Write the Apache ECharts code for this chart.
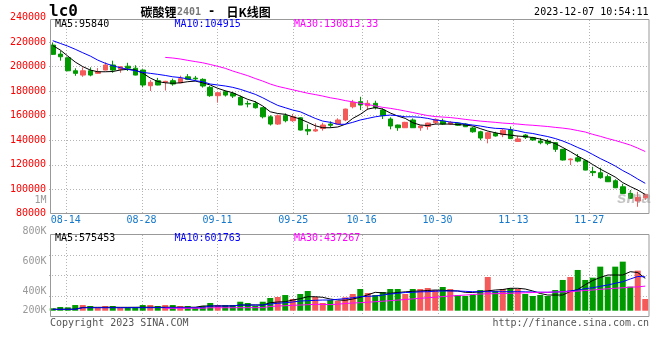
<!DOCTYPE html>
<html><head><meta charset="utf-8">
<script src="https://cdn.jsdelivr.net/npm/echarts@6/dist/echarts.min.js"></script>
<style>html,body{margin:0;padding:0;background:#fff}#c{width:660px;height:360px}</style>
</head><body><div id="c"></div>
<script>
const dates = ['08-10','08-11','08-14','08-15','08-16','08-17','08-18','08-21','08-22','08-23','08-24','08-25','08-28','08-29','08-30','08-31',
'09-01','09-04','09-05','09-06','09-07','09-08','09-11','09-12','09-13','09-14','09-15','09-18','09-19','09-20','09-21','09-22','09-25','09-26','09-27','09-28',
'10-09','10-10','10-11','10-12','10-13','10-16','10-17','10-18','10-19','10-20','10-23','10-24','10-25','10-26','10-27','10-30','10-31',
'11-01','11-02','11-03','11-06','11-07','11-08','11-09','11-10','11-13','11-14','11-15','11-16','11-17','11-20','11-21','11-22','11-23','11-24','11-27','11-28','11-29','11-30',
'12-01','12-04','12-05','12-06','12-07'];
const tickDates = ['08-14','08-28','09-11','09-25','10-16','10-30','11-13','11-27'];
const priceTicks = {min:80000, max:240000, step:20000};
const volTickLabels = ['800K','600K','400K','200K'];

const opens = [217500,210200,207200,196600,193100,196600,194500,197200,201300,197800,
200300,198700,197200,184400,188500,187200,188500,186800,191700,190600,
189600,183100,176300,179500,178200,175000,170000,170100,166500,159100,
153200,160000,155900,158300,148800,147500,149600,153200,153200,156500,
167300,171400,168100,170100,164600,157300,152400,150200,156500,150200,
151200,154300,155500,153200,153800,153200,150000,146900,141500,145600,
144600,148500,139000,144200,142000,139300,139300,138000,132600,124100,
125700,123300,114600,113500,110300,107000,102100,96700,90500,93100];
const highs = [219500,212900,207500,198600,199400,199400,198800,203500,204800,200400,
203100,201100,197800,189000,190800,188400,190200,192600,193900,192400,
190500,184200,179000,180400,179400,176400,172200,172000,167000,160400,
161000,161900,161400,158600,153000,153800,154200,155400,157900,165700,
172900,175400,172700,172200,166000,158700,152700,155000,157800,151800,
154300,157800,157600,155600,154600,153800,151000,147700,146900,146900,
149500,151200,143700,145000,142800,141800,141000,138500,133000,125200,
128800,124100,118400,117600,112100,108200,104500,99400,98000,96300];
const lows = [209500,204800,196300,192500,191700,192100,194300,197000,195000,195000,
196400,192900,183100,180100,184800,180500,184400,186500,189000,188500,
182900,175400,170600,175600,174400,168700,166800,165800,157800,152000,
152500,154600,155000,148000,144200,146900,147800,150200,153000,155500,
166000,164600,164600,165100,157300,148900,147700,150000,150000,147700,
148600,152900,152400,152400,151600,150800,146100,140000,137500,143000,
142500,141000,138800,141000,139500,136700,136000,130500,123500,119800,
122000,115500,110800,108700,106000,101000,96500,92500,85800,91500];
const closes = [210000,208000,196600,194500,196600,193100,195800,201300,197200,199900,
198700,193100,185000,187200,185000,188000,185800,190200,189600,190000,
184200,176300,178700,176800,176000,168700,169500,166500,159100,153200,
160000,155900,159100,148300,147500,148600,152400,152200,156500,165400,
170900,168700,170100,166500,160000,151600,150200,154600,150200,151600,
154000,157000,153200,154600,152200,151000,146900,141800,146100,143500,
148200,141300,141100,142400,140200,138000,137500,132600,123900,124700,
123000,115700,113600,109500,106200,101300,96700,92700,93500,95900];

const ma5 = [217200,213500,208600,203700,200000,197200,195800,195800,196000,197200,
197800,197200,194700,190700,187800,186800,186400,186800,187700,188200,
186800,185000,182300,180300,178700,176000,173300,171400,167900,163200,
161800,161100,159100,157300,154600,151800,150200,150200,150800,153000,
157800,161100,165400,166600,165400,162200,159700,157800,154300,152400,
152000,153200,153200,153200,152800,152400,151600,149500,147500,146100,
144900,144200,143400,143000,142200,141000,139300,137300,134100,130800,
127100,123900,120200,116500,113300,110000,105500,102300,99400,95840];
const ma10 = [221100,218900,216700,214100,211300,208600,205300,202700,200700,199100,
197800,196600,195300,194500,193700,192800,191700,191100,189900,188500,
187700,185800,185000,184200,183100,181500,179500,177400,174600,171400,
168400,166500,164600,163200,160500,157800,155600,154600,153000,153000,
154600,156500,157800,159100,160000,160500,160000,159100,159100,158700,
157800,156500,155900,154800,154300,153200,152400,151600,150500,149700,
149500,148700,147700,146300,145500,144200,143000,141400,139400,136900,
134100,131600,128400,125100,122200,119000,115300,112100,108400,104915];
const ma30 = [null,null,null,null,null,null,null,null,null,null,null,null,null,null,null,
207500,207000,206200,205100,204100,203100,201700,200200,198600,196400,
194500,192600,190300,188200,185800,183900,182500,181100,179700,178300,
177200,176000,174600,173600,172300,171300,170100,169100,168000,166800,
166000,165000,163800,162600,161300,160100,159300,158900,158500,157800,
157000,156300,155600,155100,154600,154000,153600,153200,152600,152200,
151700,151200,150500,149900,149100,147900,146700,144800,143200,141400,
139800,138000,136100,133600,130813.33];

const volumes = [43000,66000,60000,101000,101000,84000,53000,84000,84000,53000,
59000,59000,101000,101000,84000,101000,101000,84000,84000,59000,
84000,137000,101000,101000,101000,160000,137000,84000,160000,226000,
244000,279000,208000,297000,351000,244000,137000,190000,173000,238000,
297000,386000,315000,279000,333000,386000,386000,297000,386000,386000,
404000,368000,422000,386000,280000,262000,280000,368000,600000,351000,
386000,398000,386000,297000,262000,280000,262000,368000,547000,600000,
725000,547000,588000,784000,606000,784000,873000,428000,713000,208000];
const volMa5 = [25000,25000,26000,28000,58000,60000,60000,61000,61000,60000,
60000,61000,62000,62000,62000,61000,62000,62000,61000,62000,
84000,84000,85000,84000,86000,101000,101000,102000,101000,142000,
155000,160000,190000,214000,249000,249000,238000,208000,190000,185000,
208000,238000,283000,327000,318000,310000,324000,336000,345000,351000,
360000,368000,363000,356000,351000,327000,324000,338000,354000,368000,
377000,399000,399000,386000,351000,306000,279000,279000,279000,342000,
377000,463000,538000,591000,635000,635000,635000,694000,680000,575453];
const volMa10 = [25000,25000,25000,26000,52000,53000,53000,53000,53000,53000,
53000,54000,54000,54000,55000,55000,55000,55000,54000,54000,
55000,84000,84000,84000,85000,101000,101000,101000,101000,119000,
132000,142000,155000,173000,178000,185000,190000,190000,203000,214000,
231000,249000,256000,262000,279000,297000,310000,324000,327000,336000,
338000,347000,351000,351000,351000,345000,338000,338000,338000,338000,
338000,338000,338000,336000,333000,329000,327000,333000,338000,351000,
368000,392000,409000,434000,457000,488000,516000,564000,609000,601763];
const volMa30 = [null,null,null,null,null,null,null,null,null,null,null,null,null,null,null,
43000,43000,44000,44000,44000,45000,53000,53000,53000,53000,
54000,54000,54000,54000,75000,84000,89000,96000,101000,107000,
114000,112000,108000,116000,128000,137000,142000,151000,160000,169000,
178000,189000,199000,210000,221000,231000,240000,251000,262000,270000,
279000,288000,297000,301000,303000,306000,310000,315000,319000,324000,
327000,329000,333000,336000,338000,349000,360000,368000,381000,390000,
399000,408000,419000,424000,437267];

const MONO = '"DejaVu Sans Mono", "Liberation Mono", monospace';
const CJK = '"Noto Sans CJK SC", sans-serif';
const UP = '#f55a5a', DOWN = '#009a00';
const C5 = '#000000', C10 = '#0000ff', C30 = '#ff00ff';
const GRID_COLOR = '#b4b4b4';
const gridLine = {color: GRID_COLOR, type: [1,2], width: 1};

const last = a => a[a.length - 1];
const tickIdx = tickDates.map(d => dates.indexOf(d));
const candleData = dates.map((d, i) => [opens[i], closes[i], lows[i], highs[i]]);
const volData = volumes.map((v, i) => ({value: v, itemStyle: {color: closes[i] >= opens[i] ? UP : DOWN}}));

const dateScale = {min: -0.2, max: 78.87};
const frameMain = {x: 50.5, y: 19.5, w: 598.5, h: 194};
const frameVol = {x: 50.5, y: 234.5, w: 598.5, h: 82};
const gridMain = {left: 49, top: 17.5, width: 600, height: 196.4};
const gridVol = {left: 49, top: 234.5, width: 600, height: 82};

function txt(x, y, text, fill, font, align) {
  return {type: 'text', x: x, y: y, z: 20, silent: true,
    style: {text: text, fill: fill, font: font, align: align || 'left', verticalAlign: 'middle'}};
}
const F10 = '10px ' + MONO;
const volLabelY = [231, 261, 291, 310.5];

// vertical date grid lines: x from the same date scale as the date axis below
const vLines = [];
tickIdx.forEach(i => {
  const px = Math.round(gridMain.left + gridMain.width * (i - dateScale.min) / (dateScale.max - dateScale.min)) + 0.5;
  [frameMain, frameVol].forEach(f => {
    vLines.push({type: 'line', z: 1, silent: true,
      shape: {x1: px, y1: Math.ceil(f.y), x2: px, y2: Math.floor(f.y + f.h)},
      style: {stroke: GRID_COLOR, lineWidth: 1, lineDash: [1, 2]}});
  });
});

const graphic = vLines.concat([
  {type: 'rect', z: 15, silent: true, shape: {x: frameMain.x, y: frameMain.y, width: frameMain.w, height: frameMain.h}, style: {fill: 'none', stroke: '#999', lineWidth: 1}},
  {type: 'rect', z: 15, silent: true, shape: {x: frameVol.x, y: frameVol.y, width: frameVol.w, height: frameVol.h}, style: {fill: 'none', stroke: '#999', lineWidth: 1}},
  txt(49, 12, 'lc0', '#000', 'bold 16px ' + MONO),
  txt(140.5, 12, '碳酸锂', '#000', 'bold 12px ' + CJK),
  txt(177, 12.5, '2401', '#777', 'bold 10px ' + MONO),
  txt(208, 12, '-', '#000', 'bold 12px ' + MONO),
  txt(226.5, 12, '日K线图', '#000', 'bold 12px ' + CJK),
  txt(648.5, 12, '2023-12-07 10:54:11', '#000', F10, 'right'),
  txt(55, 24, 'MA5:' + last(ma5), C5, F10),
  txt(174.5, 24, 'MA10:' + last(ma10), C10, F10),
  txt(294, 24, 'MA30:' + last(ma30), C30, F10),
  txt(55, 238.5, 'MA5:' + last(volMa5), C5, F10),
  txt(174.5, 238.5, 'MA10:' + last(volMa10), C10, F10),
  txt(294, 238.5, 'MA30:' + last(volMa30), C30, F10),
  txt(46.5, 200.5, '1M', '#999', F10, 'right'),
  txt(50, 323.7, 'Copyright 2023 SINA.COM', '#555', F10),
  txt(649, 323.7, 'http://finance.sina.com.cn', '#555', F10, 'right'),
  {type: 'text', x: 651, y: 198, z: 12, silent: true,
    style: {text: 'sina', fill: 'rgba(150,150,150,0.55)', font: 'italic bold 17px "Liberation Sans", sans-serif', align: 'right', verticalAlign: 'middle'}}
]).concat(volTickLabels.map((t, k) => txt(46.5, volLabelY[k], t, '#999', F10, 'right')));

const chart = echarts.init(document.getElementById('c'), null, {renderer: 'canvas'});
chart.setOption({
  animation: false,
  backgroundColor: '#fff',
  grid: [gridMain, gridVol],
  xAxis: [
    {type: 'category', gridIndex: 0, data: dates, boundaryGap: true, show: false},
    {type: 'category', gridIndex: 1, data: dates, boundaryGap: true, show: false},
    {type: 'value', gridIndex: 0, position: 'bottom', min: dateScale.min, max: dateScale.max,
      axisLine: {show: false}, axisTick: {show: false, customValues: tickIdx},
      axisLabel: {customValues: tickIdx, formatter: v => dates[Math.round(v)], color: '#1478cc', fontFamily: MONO, fontSize: 10, margin: 2},
      splitLine: {show: false}}
  ],
  yAxis: [
    {type: 'value', gridIndex: 0, min: priceTicks.min, max: priceTicks.max, interval: priceTicks.step,
      axisLine: {show: false}, axisTick: {show: false},
      axisLabel: {color: '#ff0000', fontFamily: MONO, fontSize: 10, margin: 3, formatter: v => String(v)},
      splitLine: {show: true, showMinLine: false, showMaxLine: false, lineStyle: gridLine}},
    {type: 'value', gridIndex: 1, min: -103000, max: 1356000, show: false, splitLine: {show: false}},
    {type: 'value', gridIndex: 1, min: 0, max: 4, interval: 1,
      axisLine: {show: false}, axisTick: {show: false}, axisLabel: {show: false},
      splitLine: {show: true, showMinLine: false, showMaxLine: false, lineStyle: gridLine}}
  ],
  series: [
    {type: 'candlestick', xAxisIndex: 0, yAxisIndex: 0, data: candleData, barWidth: 5,
      itemStyle: {color: UP, color0: DOWN, borderColor: UP, borderColor0: DOWN, borderWidth: 1}},
    {type: 'line', xAxisIndex: 0, yAxisIndex: 0, data: ma5, symbol: 'none', z: 4, lineStyle: {color: C5, width: 1}, itemStyle: {color: C5}},
    {type: 'line', xAxisIndex: 0, yAxisIndex: 0, data: ma10, symbol: 'none', z: 4, lineStyle: {color: C10, width: 1}, itemStyle: {color: C10}},
    {type: 'line', xAxisIndex: 0, yAxisIndex: 0, data: ma30, symbol: 'none', z: 4, lineStyle: {color: C30, width: 1}, itemStyle: {color: C30}},
    {type: 'bar', xAxisIndex: 1, yAxisIndex: 1, data: volData, barWidth: 6},
    {type: 'line', xAxisIndex: 1, yAxisIndex: 1, data: volMa5, symbol: 'none', z: 4, lineStyle: {color: C5, width: 1}, itemStyle: {color: C5}},
    {type: 'line', xAxisIndex: 1, yAxisIndex: 1, data: volMa10, symbol: 'none', z: 4, lineStyle: {color: C10, width: 1}, itemStyle: {color: C10}},
    {type: 'line', xAxisIndex: 1, yAxisIndex: 1, data: volMa30, symbol: 'none', z: 4, lineStyle: {color: C30, width: 1}, itemStyle: {color: C30}}
  ],
  graphic: graphic
});
</script></body></html>
